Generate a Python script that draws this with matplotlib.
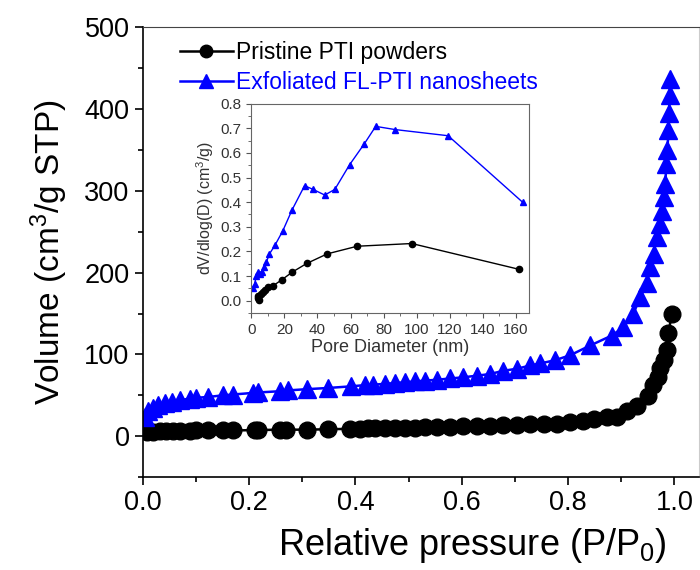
import matplotlib
matplotlib.use("Agg")
import matplotlib.pyplot as plt
from matplotlib.ticker import MultipleLocator

plt.rcParams['font.family'] = ['Liberation Sans', 'DejaVu Sans']
plt.rcParams['mathtext.fontset'] = 'custom'
plt.rcParams['mathtext.rm'] = 'Liberation Sans'
plt.rcParams['mathtext.it'] = 'Liberation Sans'
plt.rcParams['mathtext.default'] = 'regular'

# main isotherms
p_pristine = [0.007, 0.019, 0.032, 0.044, 0.057, 0.070, 0.088, 0.101, 0.123, 0.151,
              0.170, 0.211, 0.217, 0.258, 0.270, 0.308, 0.349, 0.389, 0.408, 0.424,
              0.436, 0.455, 0.474, 0.493, 0.512, 0.531, 0.553, 0.578, 0.603, 0.628,
              0.653, 0.678, 0.704, 0.729, 0.754, 0.779, 0.804, 0.829, 0.848, 0.873,
              0.892, 0.911, 0.929, 0.951, 0.960, 0.970, 0.973, 0.980, 0.986, 0.989, 0.995]
v_pristine = [5, 5.5, 6, 6, 6, 6.5, 6, 7, 7, 7,
              7, 7.5, 7.5, 8, 8, 8, 8.5, 9, 9, 9.5,
              9.5, 10, 10, 10.5, 10.5, 11, 11, 11.5, 12, 13,
              13, 14, 14, 15, 15, 15.5, 17, 19, 21, 23,
              23, 31, 37, 49, 63, 73, 83, 93, 105, 126, 149]

p_exfol = [0.004, 0.010, 0.019, 0.029, 0.041, 0.054, 0.070, 0.088, 0.101, 0.123,
           0.151, 0.170, 0.208, 0.217, 0.258, 0.273, 0.308, 0.349, 0.392, 0.418,
           0.433, 0.455, 0.474, 0.493, 0.512, 0.531, 0.553, 0.578, 0.603, 0.628,
           0.653, 0.678, 0.704, 0.729, 0.748, 0.776, 0.804, 0.842, 0.882, 0.904,
           0.923, 0.936, 0.948, 0.954, 0.961, 0.967, 0.973, 0.976, 0.980, 0.983,
           0.985, 0.987, 0.989, 0.990, 0.991, 0.992]
v_exfol = [24, 31, 35, 38, 40, 42, 44, 46, 47, 48,
           50, 51, 53, 53.5, 55, 56, 57.5, 59, 61, 62.5,
           63, 64, 65, 66, 67, 68, 69, 70.6, 72, 74,
           76, 80, 82.5, 86.5, 89, 93, 99, 111, 123, 133,
           150, 170, 187, 207, 223, 244, 260, 276, 292, 309,
           333, 350, 374, 395, 417, 437]

# inset pore size distribution
d_pristine = [3.8, 4.2, 4.6, 5.7, 7.0, 8.4, 10.0, 13.3, 18.3, 24.8, 33.5, 45.9, 64.0, 97.0, 162.0]
dv_pristine = [0.011, 0.020, 0.003, 0.025, 0.034, 0.044, 0.055, 0.061, 0.084, 0.116,
               0.151, 0.190, 0.221, 0.232, 0.127]
d_exfol = [1.0, 2.0, 3.0, 3.8, 5.0, 6.7, 7.8, 9.0, 11.0, 14.3, 19.0, 24.6, 32.2, 37.3,
           44.4, 50.5, 59.4, 68.4, 75.2, 87.0, 119.0, 164.0]
dv_exfol = [0.050, 0.068, 0.100, 0.115, 0.110, 0.115, 0.135, 0.155, 0.190, 0.225, 0.283,
            0.368, 0.467, 0.452, 0.429, 0.452, 0.552, 0.638, 0.708, 0.695, 0.670, 0.400]

fig = plt.figure(figsize=(7, 5.7), dpi=100)
ax = fig.add_axes([0.204, 0.163, 0.795, 0.789])

ax.plot(p_pristine, v_pristine, '-o', color='black', ms=12, lw=1.8,
        label='Pristine PTI powders')
ax.plot(p_exfol, v_exfol, '-^', color='#0000ff', ms=13, lw=1.8,
        label='Exfoliated FL-PTI nanosheets')

ax.set_xlim(0, 1.047)
ax.set_ylim(-50, 500)
ax.xaxis.set_major_locator(MultipleLocator(0.2))
ax.xaxis.set_minor_locator(MultipleLocator(0.1))
ax.yaxis.set_major_locator(MultipleLocator(100))
ax.yaxis.set_minor_locator(MultipleLocator(50))
ax.tick_params(which='both', direction='out', top=False, right=False, labelsize=19.5, width=1.2)
ax.tick_params(which='major', length=6)
ax.tick_params(which='minor', length=3.5)
ax.xaxis.set_major_formatter(plt.FuncFormatter(lambda v, _: f'{v:.1f}'))
ax.spines['top'].set_color('#444444')
ax.spines['right'].set_color('#cccccc')
ax.spines['right'].set_linewidth(0.8)
ax.spines['left'].set_linewidth(1.2)
ax.spines['bottom'].set_linewidth(1.2)
ax.set_xlabel(r'Relative pressure (P/P$_0$)', fontsize=26)
ax.xaxis.set_label_coords(0.592, -0.108)
ax.set_ylabel(r'Volume (cm$^3$/g STP)', fontsize=24, labelpad=10)

leg = ax.legend(loc='upper left', bbox_to_anchor=(0.03, 1.015), frameon=False, fontsize=16.5,
                handlelength=2.3, handletextpad=0.15, labelspacing=0.3, markerscale=0.75)
leg.get_texts()[1].set_color('#0000ff')

ins = fig.add_axes([0.359, 0.451, 0.397, 0.367])
ins.plot(d_pristine, dv_pristine, '-o', color='black', ms=4.5, lw=1.0)
ins.plot(d_exfol, dv_exfol, '-^', color='#0000ff', ms=5, lw=1.0)
ins.set_xlim(0, 168)
ins.set_ylim(-0.05, 0.8)
ins.xaxis.set_major_locator(MultipleLocator(20))
ins.xaxis.set_minor_locator(MultipleLocator(10))
ins.yaxis.set_major_locator(MultipleLocator(0.1))
ins.yaxis.set_minor_locator(MultipleLocator(0.05))
ins.yaxis.set_major_formatter(plt.FuncFormatter(lambda v, _: f'{v:.1f}'))
ins.tick_params(which='both', direction='out', labelsize=11, colors='#555555',
                labelcolor='#333333')
ins.tick_params(which='major', length=3.5)
ins.tick_params(which='minor', length=2)
for s in ins.spines.values():
    s.set_color('#666666')
ins.set_xlabel('Pore Diameter (nm)', fontsize=13, color='#333333', labelpad=2)
ins.set_ylabel(r'dV/dlog(D) (cm$^3$/g)', fontsize=11.5, color='#333333', labelpad=3)

fig.savefig('out.png', dpi=100)
